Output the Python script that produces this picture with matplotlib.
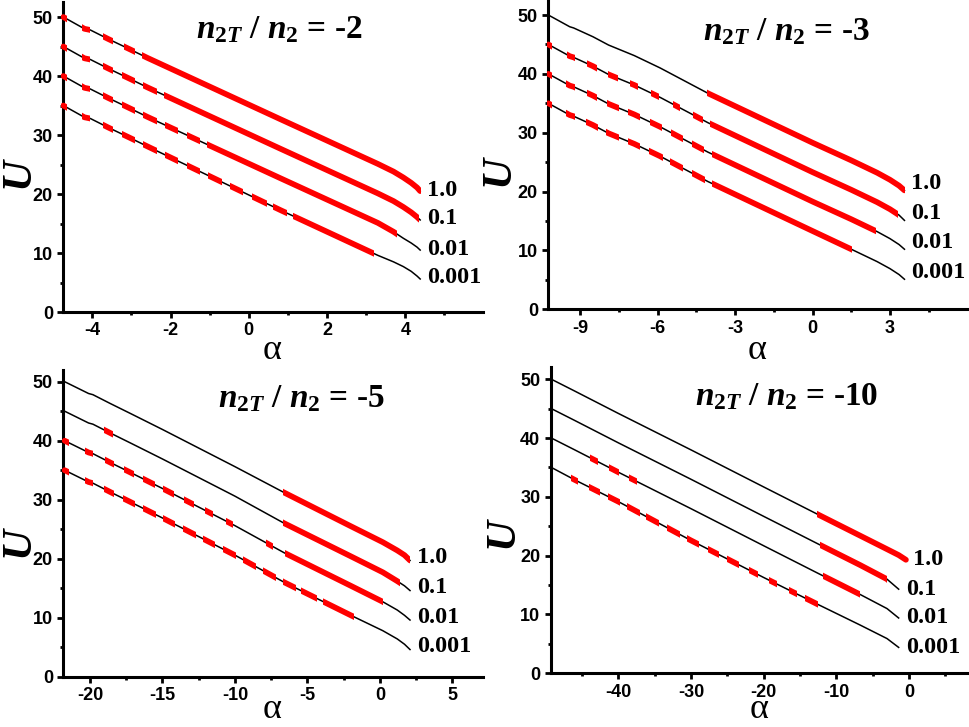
import numpy as np
import matplotlib
matplotlib.use('Agg')
import matplotlib.pyplot as plt
import matplotlib.patches as patches
from matplotlib.ticker import MultipleLocator

plt.rcParams['axes.unicode_minus'] = False
plt.rcParams['mathtext.fontset'] = 'custom'
plt.rcParams['mathtext.it'] = 'Liberation Serif:italic:bold'
plt.rcParams['mathtext.rm'] = 'Liberation Serif:bold'
plt.rcParams['mathtext.bf'] = 'Liberation Serif:bold'

LABELS = ['1.0', '0.1', '0.01', '0.001']
RATIOS = ['-2', '-3', '-5', '-10']
nan = np.nan

# ---- n2T/n2 = -2
P1_ALPHA = [-4.74, -4.2, -4.05, -3.6, -3.0, -2.6, 0.8, 3.3, 3.7, 3.95, 4.15, 4.3, 4.38]
P1_U = {
    '1.0':   [50.0, 48.0, 47.8, 46.3, 44.4, 43.1, 32.7, 25.1, 23.8, 22.8, 21.9, 21.1, 20.5],
    '0.1':   [45.0, 43.0, 42.8, 41.3, 39.4, 38.1, 27.7, 20.1, 18.8, 17.8, 16.9, 16.1, 15.6],
    '0.01':  [40.0, 38.0, 37.8, 36.3, 34.4, 33.1, 22.7, 15.1, 13.6, 12.5, 11.7, 11.0, 10.5],
    '0.001': [35.0, 33.0, 32.8, 31.3, 29.4, 28.1, 17.3, 9.6, 8.5, 7.7, 6.9, 6.1, 5.6],
}
P1_RED = {
    '1.0':   [(-4.8, -4.64), (-4.27, -4.05), (-3.72, -3.48), (-3.2, -2.9), (-2.73, 4.4)],
    '0.1':   [(-4.8, -4.64), (-4.27, -4.05), (-3.72, -3.48), (-3.25, -2.91), (-2.7, -2.35),
              (-2.18, 4.34)],
    '0.01':  [(-4.8, -4.64), (-4.27, -4.05), (-3.72, -3.48), (-3.25, -2.91), (-2.7, -2.35),
              (-2.14, -1.8), (-1.59, -1.25), (-1.07, 3.79)],
    '0.001': [(-4.8, -4.64), (-4.27, -4.05), (-3.72, -3.48), (-3.25, -2.91), (-2.7, -2.35),
              (-2.14, -1.8), (-1.59, -1.25), (-1.03, -0.69), (-0.48, -0.14), (0.08, 0.46),
              (0.63, 0.97), (1.14, 3.19)],
}

# ---- n2T/n2 = -3
P2_ALPHA = [-10.23, -9.4, -9.25, -8.5, -7.9, -6.9, -5.9, -4.05, 0.0, 1.5, 2.5, 3.0, 3.35, 3.56]
P2_U = {
    '1.0':   [50.0, 48.0, 47.8, 46.3, 44.9, 43.1, 41.0, 36.7, 28.3, 25.3, 23.2, 22.0, 21.0, 20.2],
    '0.1':   [45.0, 43.0, 42.8, 41.3, 39.9, 38.1, 36.0, 31.7, 23.3, 20.3, 18.2, 17.0, 16.0, 15.1],
    '0.01':  [40.0, 38.0, 37.8, 36.3, 34.9, 33.1, 31.0, 26.7, 18.3, 15.3, 13.2, 12.0, 11.0, 10.2],
    '0.001': [35.0, 33.0, 32.8, 31.3, 29.9, 28.1, 26.0, 21.7, 13.3, 10.2, 8.1, 6.9, 5.9, 5.1],
}
P2_RED = {
    '1.0':   [(-4.07, 3.6)],
    '0.1':   [(-10.3, -10.08), (-9.52, -9.2), (-8.74, -8.36), (-7.93, -7.55), (-7.07, -6.75),
              (-6.25, -5.95), (-5.39, -5.13), (-4.61, -4.23), (-3.97, 3.32)],
    '0.01':  [(-10.3, -10.08), (-9.53, -9.19), (-8.74, -8.36), (-7.97, -7.51), (-7.14, -6.68),
              (-6.29, -5.83), (-5.49, -5.03), (-4.68, -4.22), (-3.9, 2.44)],
    '0.001': [(-10.3, -10.08), (-9.53, -9.19), (-8.78, -8.32), (-8.0, -7.48), (-7.14, -6.68),
              (-6.32, -5.8), (-5.52, -5.0), (-4.68, -4.16), (-3.9, 1.51)],
}

# ---- n2T/n2 = -5
P3_ALPHA = [-21.75, -20.1, -19.8, -18.6, -17.2, -15.0, -10.0, -6.6, -2.0, 0.2, 1.2, 1.7, 2.08]
P3_U = {
    '1.0':   [50.0, 48.0, 47.8, 46.3, 44.6, 41.9, 35.6, 31.2, 25.5, 22.8, 21.4, 20.6, 19.7],
    '0.1':   [45.0, 43.0, 42.8, 41.3, 39.6, 36.9, 30.6, 26.0, 20.4, 17.7, 16.2, 15.4, 14.6],
    '0.01':  [40.0, 38.0, 37.8, 36.3, 34.6, 31.9, 25.6, 21.0, 15.4, 12.7, 11.3, 10.4, 9.6],
    '0.001': [35.0, 33.0, 32.8, 31.3, 29.6, 26.9, 20.6, 16.0, 10.4, 7.8, 6.4, 5.5, 4.6],
}
P3_RED = {
    '1.0':   [(-6.66, 2.1)],
    '0.1':   [(-19.04, -18.44), (-6.66, 1.4)],
    '0.01':  [(-21.9, -21.45), (-20.37, -19.77), (-18.98, -18.36), (-17.66, -16.96),
              (-16.31, -15.51), (-14.97, -14.23), (-13.5, -12.8), (-12.08, -11.5),
              (-10.62, -10.16), (-7.88, -7.38), (-6.54, 0.2)],
    '0.001': [(-21.9, -21.45), (-20.37, -19.77), (-19.02, -18.32), (-17.71, -16.91),
              (-16.34, -15.48), (-14.98, -14.12), (-13.58, -12.72), (-12.22, -11.36),
              (-10.85, -9.93), (-9.47, -8.55), (-8.09, -7.17), (-6.71, -5.79),
              (-5.41, -4.33), (-3.9, -1.8)],
}

# ---- n2T/n2 = -10
P4_ALPHA = [-49.2, -46.0, -40.0, -30.0, -20.0, -12.5, -6.7, -3.0, -1.4, -0.4]
P4_U = {
    '1.0':   [50.0, 48.0, 44.2, 38.0, 31.7, 27.0, 23.4, 21.1, 20.1, 19.3],
    '0.1':   [45.0, 43.0, 39.2, 33.0, 26.7, 22.0, 18.4, 16.0, 14.3, nan],
    '0.01':  [40.0, 38.0, 34.2, 28.0, 21.7, 17.0, 13.4, 11.0, 9.4, nan],
    '0.001': [35.0, 32.9, 29.2, 22.6, 16.3, 11.7, 8.2, 5.9, 4.4, nan],
}
P4_RED = {
    '1.0':   [(-12.7, 0.0)],
    '0.1':   [(-12.24, -3.07)],
    '0.01':  [(-43.85, -42.75), (-41.3, -39.9), (-38.45, -37.35), (-11.8, -6.7)],
    '0.001': [(-46.5, -45.5), (-44.05, -42.55), (-41.4, -39.8), (-38.75, -37.05),
              (-36.15, -34.45), (-33.25, -31.55), (-30.55, -28.85), (-27.65, -26.15),
              (-25.0, -23.4), (-22.05, -20.75), (-19.3, -18.1), (-16.45, -15.35),
              (-14.25, -12.55)],
}

# layout per panel: axes rect, xlim, ylim top, x major step, title pos, label offset, U / alpha label pos
PANELS = [
    dict(alpha=P1_ALPHA, U=P1_U, red=P1_RED, rect=[0.0653, 0.5708, 0.4324, 0.4261],
         xlim=(-4.74, 5.98), ytop=52.5, step=2, title=(0.515, 0.91), dy=1,
         ulab=(-0.108, 0.449), alab=(0.497, -0.124)),
    dict(alpha=P2_ALPHA, U=P2_U, red=P2_RED, rect=[0.5653, 0.5746, 0.4313, 0.4250],
         xlim=(-10.23, 5.97), ytop=52.5, step=3, title=(0.568, 0.897), dy=7,
         ulab=(-0.118, 0.45), alab=(0.499, -0.133)),
    dict(alpha=P3_ALPHA, U=P3_U, red=P3_RED, rect=[0.0653, 0.0692, 0.4324, 0.4220],
         xlim=(-21.84, 7.1), ytop=52, step=5, title=(0.567, 0.905), dy=3,
         ulab=(-0.108, 0.44), alab=(0.497, -0.108)),
    dict(alpha=P4_ALPHA, U=P4_U, red=P4_RED, rect=[0.5677, 0.0739, 0.4299, 0.4206],
         xlim=(-49.3, 8.1), ytop=52, step=10, title=(0.567, 0.904), dy=0,
         ulab=(-0.115, 0.459), alab=(0.499, -0.118)),
]

fig = plt.figure(figsize=(9.7, 7.27), dpi=100)

for p, ratio in zip(PANELS, RATIOS):
    ax = fig.add_axes(p['rect'])
    ax.set_xlim(*p['xlim'])
    ax.set_ylim(0, p['ytop'])
    for s in ['top', 'right']:
        ax.spines[s].set_visible(False)
    for s in ['left', 'bottom']:
        ax.spines[s].set_linewidth(2.2)
    ax.xaxis.set_major_locator(MultipleLocator(p['step']))
    ax.xaxis.set_minor_locator(MultipleLocator(p['step'] / 2))
    ax.yaxis.set_major_locator(MultipleLocator(10))
    ax.yaxis.set_minor_locator(MultipleLocator(5))
    ax.tick_params(which='major', direction='out', length=4.5, width=2, pad=3)
    ax.tick_params(which='minor', direction='out', length=2.5, width=2)
    for lab in ax.get_xticklabels() + ax.get_yticklabels():
        lab.set_fontfamily('Liberation Sans')
        lab.set_fontweight('bold')
        lab.set_fontsize(13)

    a = np.array(p['alpha'])
    for name in LABELS:
        u = np.array(p['U'][name])
        ax.plot(a, u, color='black', lw=1.1, zorder=2)
        # red parts of the curve: same polyline, clipped to each alpha interval
        for a0, a1 in p['red'][name]:
            ln, = ax.plot(a, u, color='#ff0000', lw=4.1, solid_capstyle='round', zorder=3)
            ln.set_clip_path(patches.Rectangle((a0, -10), a1 - a0, 80, transform=ax.transData))
        last = np.where(~np.isnan(u))[0][-1]
        ax.annotate(name, (a[last], u[last]), xytext=(7, p['dy']), textcoords='offset pixels',
                    ha='left', va='center', fontsize=17.5, fontweight='bold',
                    fontfamily='Liberation Serif', annotation_clip=False)

    ax.text(p['title'][0], p['title'][1], r'$n_{2T}$ / $n_2$ = ' + ratio, transform=ax.transAxes,
            ha='center', va='center', fontsize=24, fontweight='bold', fontfamily='Liberation Serif')
    ax.text(p['ulab'][0], p['ulab'][1], 'U', transform=ax.transAxes, rotation=90,
            ha='center', va='center', fontsize=31, fontweight='bold', fontstyle='italic',
            fontfamily='Liberation Serif')
    ax.text(p['alab'][0], p['alab'][1], 'α', transform=ax.transAxes,
            ha='center', va='center', fontsize=26, fontfamily='Liberation Serif')

fig.savefig('out.png', dpi=100)
